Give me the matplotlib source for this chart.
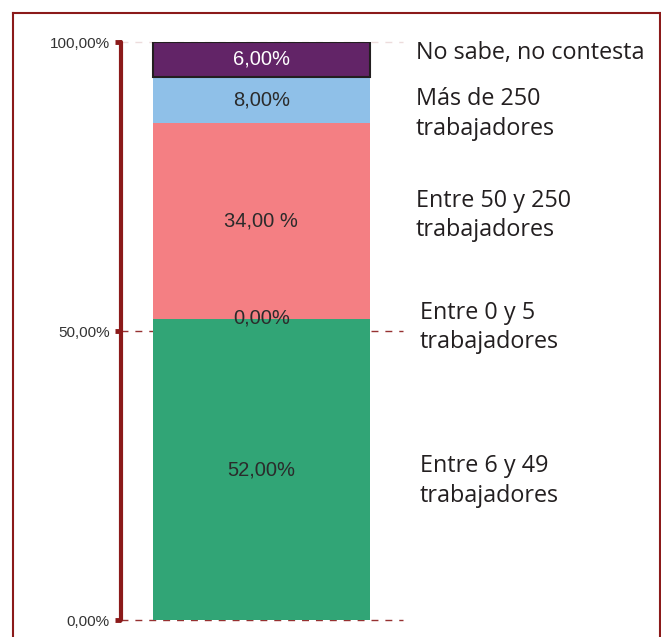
import matplotlib.pyplot as plt
from matplotlib.lines import Line2D

# ── Data ──────────────────────────────────────────────────────────────────────
categories = [
    "Entre 6 y 49\ntrabajadores",
    "Entre 0 y 5\ntrabajadores",
    "Entre 50 y 250\ntrabajadores",
    "Más de 250\ntrabajadores",
    "No sabe, no contesta",
]
values = [52.0, 0.0, 34.0, 8.0, 6.0]
value_labels = ["52,00%", "0,00%", "34,00 %", "8,00%", "6,00%"]
tick_values = [0, 50, 100]
tick_labels = ["0,00%", "50,00%", "100,00%"]

# ── Style ─────────────────────────────────────────────────────────────────────
colors = ["#31a576", "#f47f83", "#f47f83", "#8fc0e8", "#622467"]
edge = [None, None, None, None, "#231f20"]
text_colors = ["#2b2b2b", "#2b2b2b", "#2b2b2b", "#2b2b2b", "white"]
label_y = [24.0, 50.6, 70.0, 87.6, 98.1]   # legend text positions
label_x = [1.06, 1.06, 1.045, 1.045, 1.045]
DARK_RED = "#8b1a1a"
BAR_X, BAR_W = 0.498, 0.77

fig = plt.figure(figsize=(6.61, 6.37), dpi=100)
ax = fig.add_axes([121 / 661, 17 / 637, 282 / 661, 578 / 637])

bottom = 0.0
for i, v in enumerate(values):
    if v > 0:
        ax.bar(BAR_X, v, width=BAR_W, bottom=bottom, color=colors[i],
               edgecolor=edge[i] or colors[i], linewidth=1.5 if edge[i] else 0,
               zorder=3)
    ax.text(BAR_X, bottom + v / 2 + (0.3 if v == 0 else 0), value_labels[i],
            ha="center", va="center", fontsize=14.5, color=text_colors[i],
            family="Liberation Sans", zorder=4)
    ax.text(label_x[i], label_y[i], categories[i], transform=ax.get_yaxis_transform(),
            ha="left", va="center", fontsize=16.8, color="#231f20",
            family="Open Sans", linespacing=1.32, clip_on=False)
    bottom += v

# dashed gridlines
for t in tick_values:
    ax.axhline(t, color=DARK_RED, linestyle=(0, (5, 5)), linewidth=1.0,
               alpha=0.15 if t == 100 else 0.9, zorder=2, clip_on=False)

ax.set_xlim(0, 1)
ax.set_ylim(0, 100)
ax.set_yticks(tick_values)
ax.set_yticklabels(tick_labels, family="Liberation Sans", fontsize=11, color="#333333")
ax.tick_params(axis="y", length=4, width=3.5, color=DARK_RED, pad=4)
ax.set_xticks([])
for s in ["top", "right", "bottom"]:
    ax.spines[s].set_visible(False)
ax.spines["left"].set_color(DARK_RED)
ax.spines["left"].set_linewidth(3)
ax.spines["left"].set_capstyle("round")

# outer frame (bottom edge cut off)
fx0, fx1 = 12.5 / 661, 659.5 / 661
fy1 = 1 - 13 / 637
for xs, ys in [([fx0, fx0], [0, fy1]), ([fx0, fx1], [fy1, fy1]), ([fx1, fx1], [fy1, 0])]:
    fig.add_artist(Line2D(xs, ys, color=DARK_RED, linewidth=1.5, transform=fig.transFigure))

plt.savefig("out.png", dpi=100)
